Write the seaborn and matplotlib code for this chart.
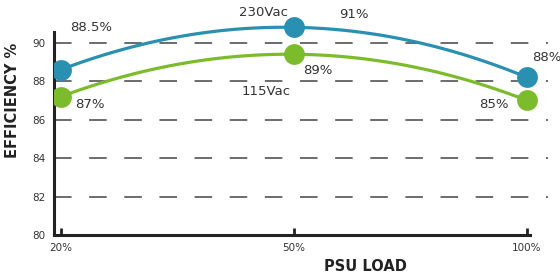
import matplotlib
matplotlib.use("Agg")
import matplotlib.pyplot as plt
import seaborn as sns
import pandas as pd

loads = ["20%", "50%", "100%"]
eff_230 = [88.6, 90.8, 88.2]
eff_115 = [87.2, 89.4, 87.0]
labels_230 = ["88.5%", "91%", "88%"]
labels_115 = ["87%", "89%", "85%"]
yticks = [80, 82, 84, 86, 88, 90]

blue = "#2a90b2"
green = "#7cbc2c"
text_col = "#333333"

sns.set_theme(style="white")
plt.rcParams["font.family"] = ["DejaVu Sans"]

df = pd.DataFrame({
    "pos": list(range(len(loads))) * 2,
    "eff": eff_230 + eff_115,
    "series": ["230Vac"] * 3 + ["115Vac"] * 3,
})

fig = plt.figure(figsize=(5.6, 2.74), dpi=100)
ax = fig.add_axes([0.0964, 0.142, 0.882, 0.839])

# dashed reference lines
for y in yticks[1:]:
    ax.axhline(y, color="#444444", lw=1.1, ls=(0, (11.5, 11.5)), zorder=1)

for name, col in [("230Vac", blue), ("115Vac", green)]:
    sub = df[df["series"] == name]
    sns.regplot(data=sub, x="pos", y="eff", order=2, ci=None, ax=ax,
                color=col, truncate=True,
                scatter_kws={"s": 225, "alpha": 1, "zorder": 4, "linewidths": 0},
                line_kws={"lw": 2.3, "zorder": 3})

# value labels (offsets in points from each marker)
offs_230 = [(22, 30), (43, 9), (14, 14)]
offs_115 = [(21, -6), (17, -12), (-24, -3)]
lab_kw = dict(textcoords="offset points", ha="center", va="center",
              fontsize=9.5, color=text_col, annotation_clip=False)
for i in range(3):
    ax.annotate(labels_230[i], (i, eff_230[i]), xytext=offs_230[i], **lab_kw)
    ax.annotate(labels_115[i], (i, eff_115[i]), xytext=offs_115[i], **lab_kw)
ax.annotate("230Vac", (1, eff_230[1]), xytext=(-22, 11), **lab_kw)
ax.annotate("115Vac", (1, eff_115[1]), xytext=(-20, -27), **lab_kw)

ax.set_xlim(-0.03, 2.09)
ax.set_ylim(80, 91.95)
ax.set_xticks(range(3))
ax.set_xticklabels(loads)
ax.set_yticks(yticks)
ax.set_yticklabels([str(v) for v in yticks])

for s in ["top", "right"]:
    ax.spines[s].set_visible(False)
for s in ["left", "bottom"]:
    ax.spines[s].set_color("#222222")
    ax.spines[s].set_linewidth(2.2)
ax.spines["bottom"].set_bounds(-0.03, 2.013)
ax.spines["left"].set_bounds(80, 90.55)

ax.tick_params(axis="x", direction="in", length=5, width=2, color="#222222",
               labelsize=7.5, labelcolor=text_col, pad=6, bottom=True)
ax.tick_params(axis="y", length=0, labelsize=7.5, labelcolor=text_col, pad=6)

ax.set_xlabel("PSU LOAD", fontsize=10.5, fontweight="bold", color="#222222")
ax.xaxis.set_label_coords(0.63, -0.105)
ax.set_ylabel("EFFICIENCY %", fontsize=10.5, fontweight="bold", color="#222222")
ax.yaxis.set_label_coords(-0.069, 0.587)

fig.savefig("out.png", dpi=100)
